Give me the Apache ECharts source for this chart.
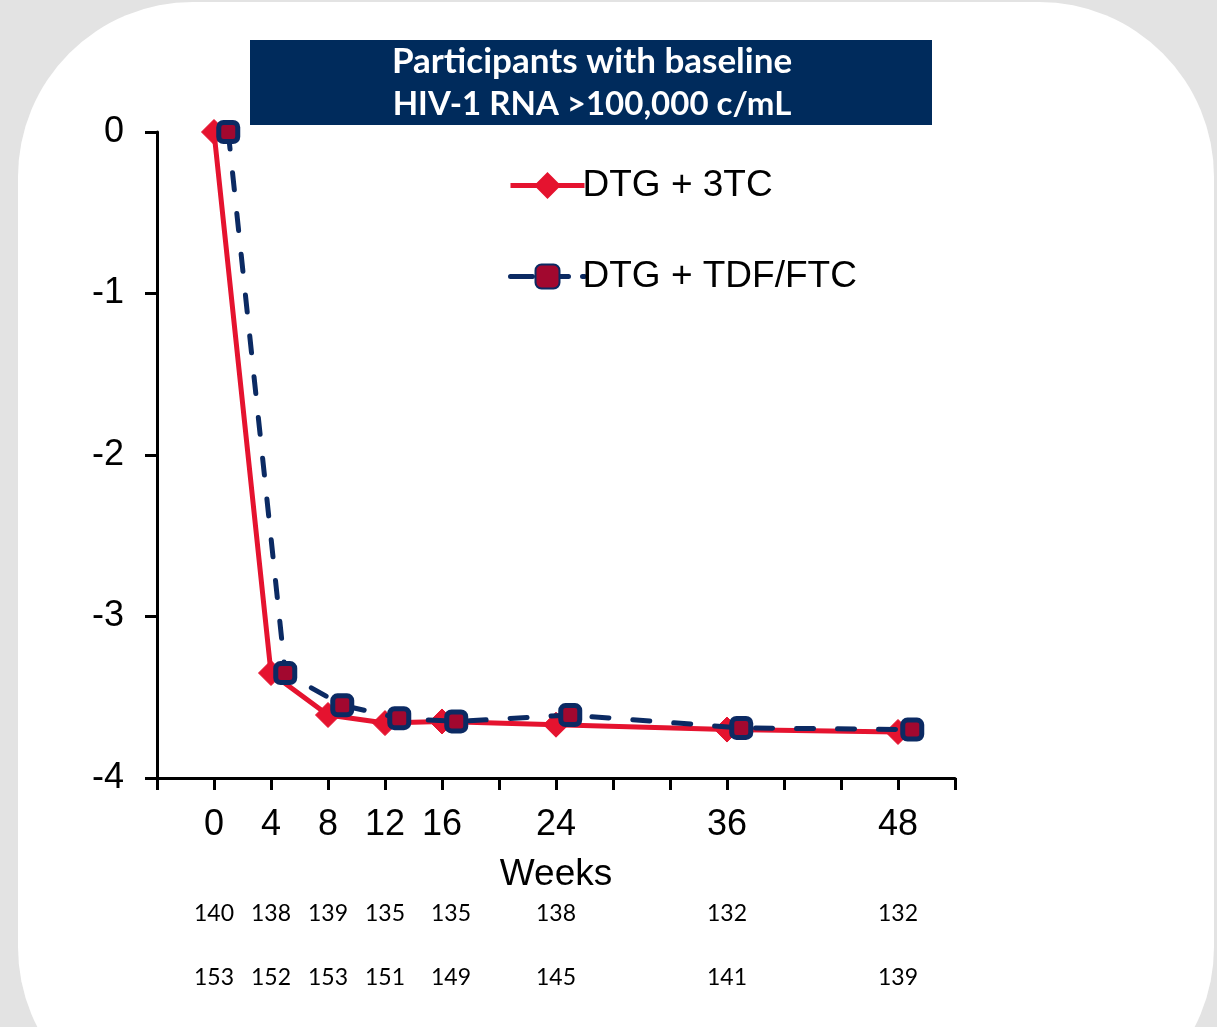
<!DOCTYPE html>
<html><head><meta charset="utf-8">
<script src="https://cdn.jsdelivr.net/npm/echarts@6/dist/echarts.min.js"></script>
<style>html,body{margin:0;padding:0;background:#e3e3e3}#c{width:1217px;height:1027px}</style>
</head><body><div id="c"></div>
<script>
const weeks = [0, 4, 8, 12, 16, 24, 36, 48];
const labelWeeks = [0, 4, 8, 12, 16, 24, 36, 48];
const dtg3tc = [0, -3.35, -3.61, -3.66, -3.65, -3.67, -3.70, -3.715];
const dtgTdf = [0, -3.35, -3.55, -3.63, -3.65, -3.61, -3.69, -3.70];
const nRisk3tc = [140, 138, 139, 135, 135, 138, 132, 132];
const nRiskTdf = [153, 152, 153, 151, 149, 145, 141, 139];
const seriesNames = ['DTG + 3TC', 'DTG + TDF/FTC'];
const titleLines = ['Participants with baseline', 'HIV-1 RNA >100,000 c/mL'];
const xName = 'Weeks';
const tdfShift = 1; // display offset of second arm

const chart = echarts.init(document.getElementById('c'), null, {renderer: 'canvas'});
const RED = '#e5132f', NAVY = '#0b2a63', FILL = '#a2082f';

const riskData = [];
weeks.forEach((w, i) => {
  riskData.push({value: [w, 0, nRisk3tc[i]], label: w === 16 ? {offset: [9, 0]} : undefined});
  riskData.push({value: [w, 1, nRiskTdf[i]], label: w === 16 ? {offset: [9, 0]} : undefined});
});

chart.setOption({
  backgroundColor: '#e3e3e3',
  animation: false,
  graphic: [
    {type: 'rect', z: -10, shape: {x: 18, y: 2, width: 1196, height: 1120, r: 175}, style: {fill: '#ffffff'}},
    {type: 'rect', z: 10, shape: {x: 250, y: 40, width: 682, height: 85}, style: {fill: '#002b5c'}},
    {type: 'text', z: 11, x: 592, y: 62, style: {text: titleLines[0], fill: '#fff', font: 'bold 35px Lato', align: 'center', verticalAlign: 'middle'}},
    {type: 'text', z: 11, x: 592, y: 104, style: {text: titleLines[1], fill: '#fff', font: 'bold 33px Lato', align: 'center', verticalAlign: 'middle'}}
  ],
  legend: {
    orient: 'vertical', left: 503, top: 162, itemWidth: 74, itemHeight: 30, itemGap: 54,
    textStyle: {fontFamily: 'Liberation Sans', fontSize: 37, color: '#000', padding: [0, 0, 0, -7]},
    data: [
      {name: seriesNames[0], lineStyle: {width: 5}},
      {name: seriesNames[1], lineStyle: {width: 5, type: [22, 14], cap: 'round'}}
    ]
  },
  grid: [
    {left: 157, right: 262, top: 132, bottom: 249},
    {left: 157, right: 262, top: 882, height: 128}
  ],
  xAxis: [
    {type: 'value', gridIndex: 0, min: -4, max: 52, interval: 4, position: 'bottom',
     axisLine: {onZero: false, lineStyle: {color: '#000', width: 3}},
     axisTick: {inside: false, length: 12, lineStyle: {color: '#000', width: 3}},
     splitLine: {show: false},
     axisLabel: {margin: 29, color: '#000', fontFamily: 'Liberation Sans', fontSize: 36,
       formatter: v => labelWeeks.includes(v) ? String(v) : ''},
     name: xName, nameLocation: 'middle', nameGap: 78,
     nameTextStyle: {color: '#000', fontFamily: 'Liberation Sans', fontSize: 37}},
    {type: 'value', gridIndex: 1, min: -4, max: 52, show: false}
  ],
  yAxis: [
    {type: 'value', gridIndex: 0, min: -4, max: 0, interval: 1, position: 'left',
     axisLine: {show: true, onZero: false, lineStyle: {color: '#000', width: 3}},
     axisTick: {show: true, inside: false, length: 12, lineStyle: {color: '#000', width: 3}},
     splitLine: {show: false},
     axisLabel: {margin: 33, color: '#000', fontFamily: 'Liberation Sans', fontSize: 36}},
    {type: 'category', gridIndex: 1, data: ['a', 'b'], inverse: true, show: false}
  ],
  series: [
    {name: seriesNames[0], type: 'line', xAxisIndex: 0, yAxisIndex: 0, z: 3,
     data: weeks.map((w, i) => [w, dtg3tc[i]]),
     symbol: 'diamond', symbolSize: 25,
     lineStyle: {color: RED, width: 5},
     itemStyle: {color: RED, borderColor: RED, borderWidth: 1}},
    {name: seriesNames[1], type: 'line', xAxisIndex: 0, yAxisIndex: 0, z: 4,
     data: weeks.map((w, i) => [w + tdfShift, dtgTdf[i]]),
     symbol: 'roundRect', symbolSize: 19,
     lineStyle: {color: NAVY, width: 5, type: [17, 24], cap: 'round'},
     itemStyle: {color: FILL, borderColor: NAVY, borderWidth: 5}},
    {type: 'scatter', xAxisIndex: 1, yAxisIndex: 1, symbolSize: 0, silent: true,
     data: riskData,
     label: {show: true, position: 'inside', formatter: p => String(p.value[2]),
       color: '#000', opacity: 1, textBorderWidth: 0, fontFamily: 'Lato', fontSize: 23}}
  ]
});
</script></body></html>
